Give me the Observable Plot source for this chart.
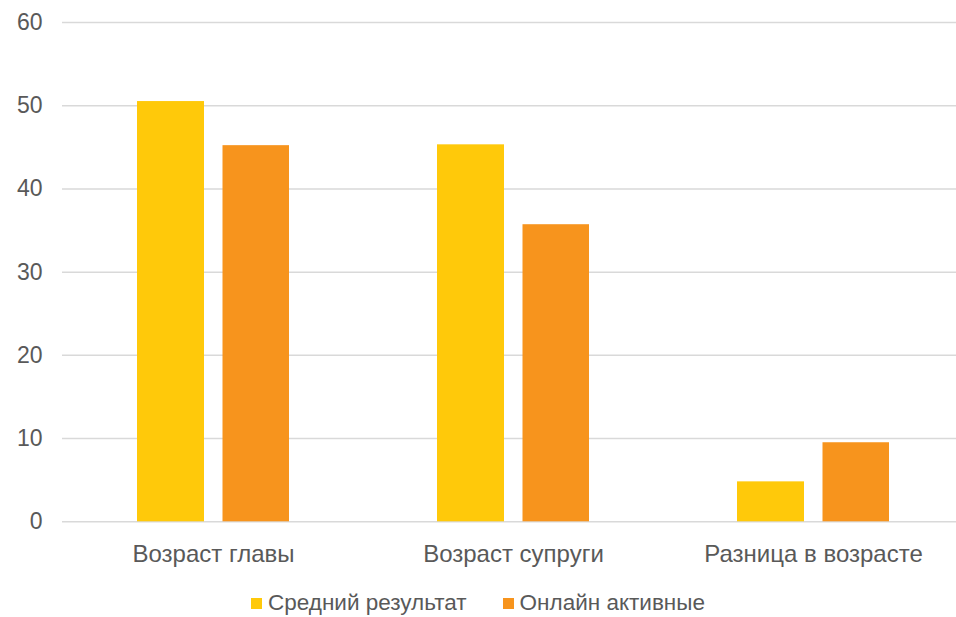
<!DOCTYPE html>
<html>
<head>
<meta charset="utf-8">
<script src="https://cdn.jsdelivr.net/npm/d3@7"></script>
<script src="https://cdn.jsdelivr.net/npm/@observablehq/plot@0.6"></script>
<style>
  body { margin: 0; background: #fff; font-family: "Liberation Sans", Arial, sans-serif; }
  #wrap { position: relative; width: 956px; height: 617px; }
  #legend { position: absolute; left: 0; top: 590px; width: 956px; display: flex; justify-content: center; align-items: center; font-size: 22.5px; color: #595959; }
  .item { display: flex; align-items: center; margin: 0 18px; }
  .sw { width: 11px; height: 11px; margin-right: 6px; }
</style>
</head>
<body>
<div id="wrap"><div id="chart"></div><div id="legend"></div></div>
<script>
const categories = ["Возраст главы", "Возраст супруги", "Разница в возрасте"];
const series = ["Средний результат", "Онлайн активные"];
const averageValues = [50.5, 45.3, 4.8];
const onlineValues = [45.2, 35.7, 9.5];
const yTicks = [0, 10, 20, 30, 40, 50, 60];
const colors = ["#FFC90A", "#F7941D"];

const avgData = categories.map((c, i) => ({category: c, value: averageValues[i]}));
const onlineData = categories.map((c, i) => ({category: c, value: onlineValues[i]}));

const chart = Plot.plot({
  width: 956,
  height: 580,
  marginLeft: 62,
  marginRight: 0,
  marginTop: 22,
  marginBottom: 58,
  x: {domain: categories, range: [63, 963], padding: 0},
  y: {domain: [0, 60], range: [521.3, 22]},
  style: {fontFamily: "'Liberation Sans', Arial, sans-serif", fontSize: "23px", color: "#595959", background: "#fff"},
  marks: [
    Plot.ruleY(yTicks, {stroke: "#d9d9d9", strokeWidth: 1.5}),
    Plot.barY(avgData, {x: "category", y: "value", fill: colors[0], insetLeft: 74, insetRight: 159}),
    Plot.barY(onlineData, {x: "category", y: "value", fill: colors[1], insetLeft: 159.5, insetRight: 74}),
    Plot.axisY({ticks: yTicks, tickSize: 0, tickPadding: 20, label: null, fill: "#595959", fontSize: 23}),
    Plot.axisX({tickSize: 0, tickPadding: 22, label: null, fill: "#595959", fontSize: 24})
  ]
});
document.getElementById("chart").appendChild(chart);

const legend = document.getElementById("legend");
series.forEach((s, i) => {
  const item = document.createElement("div");
  item.className = "item";
  const sw = document.createElement("div");
  sw.className = "sw";
  sw.style.background = colors[i];
  const t = document.createElement("span");
  t.textContent = s;
  item.appendChild(sw);
  item.appendChild(t);
  legend.appendChild(item);
});
</script>
</body>
</html>
